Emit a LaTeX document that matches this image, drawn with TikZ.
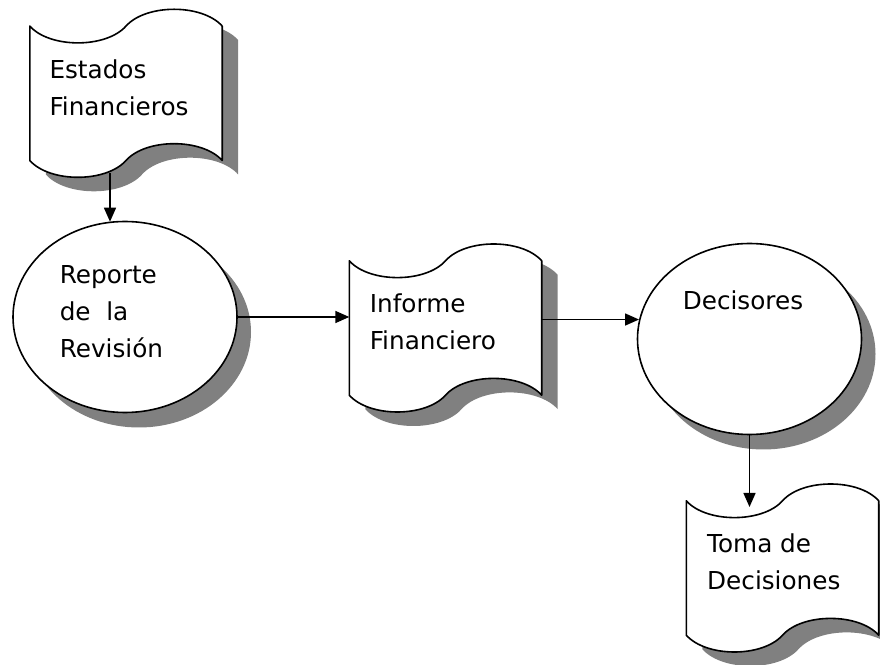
\documentclass[tikz,border=0pt]{standalone}
\usepackage{fontspec}
\setmainfont{DejaVu Sans}
\usetikzlibrary{arrows.meta,calc,shapes.geometric,shadows}
\definecolor{shadowgray}{RGB}{128,128,128}

% Punched-tape outline of a tapebox node, offset by (#2,#3):
% a dip then a bulge along the top, the same wave along the bottom.
\newcommand\tapeoutline[3]{%
  (#1.north west) ++(#2,#3) ++(0,-16.8)
  .. controls +(20,-22.4) and +(-20,-22.4) .. ++(96.2,0)
  .. controls +(20,22.4) and +(-20,22.4) .. ++(96.2,0)
  -- ++(0,-134.4)
  .. controls +(-20,22.4) and +(20,22.4) .. ++(-96.2,0)
  .. controls +(-20,-22.4) and +(20,-22.4) .. ++(-96.2,0)
  -- cycle}

\tikzset{
  tapebox/.style={rectangle, minimum width=192.4pt, minimum height=168pt,
    inner sep=0pt, outer sep=0pt},
  tapeshadow/.style={fill=shadowgray},
  tapeline/.style={draw=black, line width=1.6pt, fill=white, line join=round},
  stateoval/.style={ellipse, draw=black, line width=1.6pt, fill=white,
    minimum width=224pt, minimum height=191pt, inner sep=0pt,
    drop shadow={shadow xshift=14pt, shadow yshift=-15pt,
      fill=shadowgray, opacity=1}},
  conn/.style={line width=1.5pt, -{Triangle[length=14pt,width=12pt]}},
  lbl/.style={anchor=base west, inner sep=0pt,
    font=\fontsize{24.7pt}{37pt}\selectfont}
}

\begin{document}
\begin{tikzpicture}[x=1pt,y=1pt]
  \fill[white] (0,0) rectangle (880,664);
  \useasboundingbox (0,0) rectangle (880,664);

  % document-style boxes (punched tape with shadow)
  \node[tapebox] (est) at (126,570.7) {};
  \node[tapebox] (inf) at (445.5,336) {};
  \node[tapebox] (tom) at (782.5,96) {};
  \foreach \t in {est,inf,tom}{
    \fill[tapeshadow] \tapeoutline{\t}{16}{-14};
    \path[tapeline] \tapeoutline{\t}{0}{0};
  }

  % process ovals
  \node[stateoval] (rep) at (125,347) {};
  \node[stateoval] (dec) at (749.5,325) {};

  % connectors
  \draw[conn] ($(est.south)+(-16,4)$) -- ($(rep.north)+(-15,-1)$);
  \draw[conn] (rep.east) -- (rep.east -| inf.west);
  \draw[conn] (dec.170 -| inf.east) -- (dec.170);
  \draw[conn] (dec.south) -- ($(dec.south |- tom.north)+(0,-23)$);

  % labels
  \node[lbl] (estT) at (49.3,585.7)
    {\begin{tabular}[t]{@{}l@{}}Estados\\Financieros\end{tabular}};
  \node[lbl] (repT) at (59.6,380)
    {\begin{tabular}[t]{@{}l@{}}Reporte\\de~~la\\Revisión\end{tabular}};
  \node[lbl] (infT) at (369.6,351)
    {\begin{tabular}[t]{@{}l@{}}Informe\\Financiero\end{tabular}};
  \node[lbl] (decT) at (682.6,354) {Decisores};
  \node[lbl] (tomT) at (707,112)
    {\begin{tabular}[t]{@{}l@{}}Toma de\\Decisiones\end{tabular}};
\end{tikzpicture}
\end{document}
